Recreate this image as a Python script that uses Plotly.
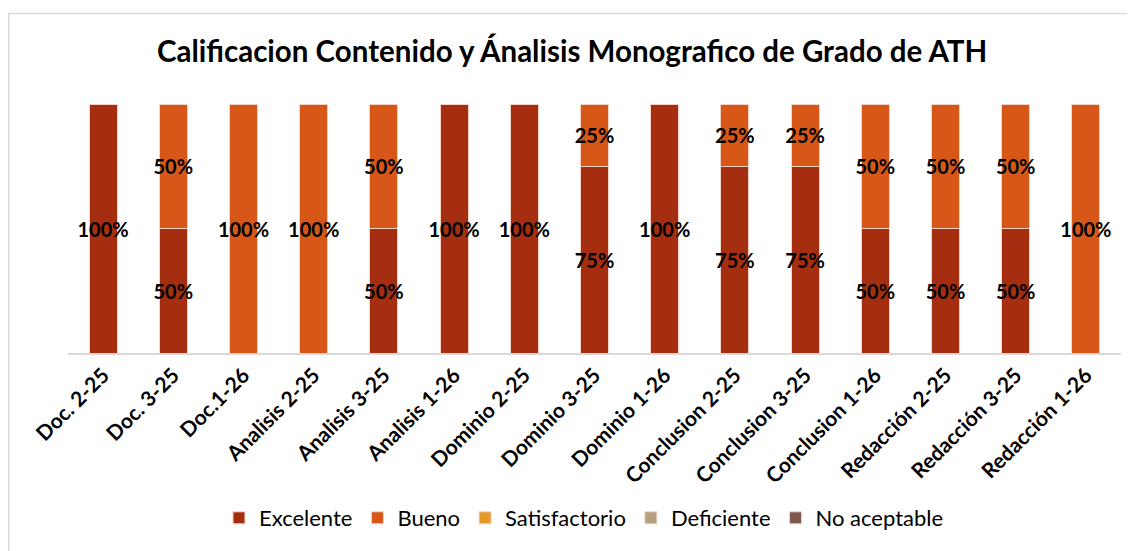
import plotly.graph_objects as go

categories = ["Doc. 2-25", "Doc. 3-25", "Doc.1-26", "Analisis 2-25", "Analisis 3-25",
              "Analisis 1-26", "Dominio 2-25", "Dominio 3-25", "Dominio 1-26",
              "Conclusion 2-25", "Conclusion 3-25", "Conclusion 1-26",
              "Redacción 2-25", "Redacción 3-25", "Redacción 1-26"]

excelente = [100, 50, 0, 0, 50, 100, 100, 75, 100, 75, 75, 50, 50, 50, 0]
bueno = [0, 50, 100, 100, 50, 0, 0, 25, 0, 25, 25, 50, 50, 50, 100]
satisfactorio = [0] * 15
deficiente = [0] * 15
no_aceptable = [0] * 15

series = [
    ("Excelente", excelente, "#A52E10"),
    ("Bueno", bueno, "#D65718"),
    ("Satisfactorio", satisfactorio, "#E39A28"),
    ("Deficiente", deficiente, "#B5A07F"),
    ("No aceptable", no_aceptable, "#7D5A4D"),
]

FONT = "Lato"

fig = go.Figure()
for name, vals, color in series:
    fig.add_trace(go.Bar(
        x=categories, y=vals, name=name,
        marker=dict(color=color, line=dict(color="#f3d3c5", width=1)),
        text=[f"{v}%" if v else "" for v in vals],
        textposition="inside", insidetextanchor="middle", constraintext="none",
        textangle=0,
        textfont=dict(family=FONT, size=20, color="black", weight="bold"),
    ))

# the page body adds an 8px offset, margins below are compensated for it
fig.update_layout(
    barmode="stack",
    bargap=0.6,
    width=1135, height=551,
    margin=dict(l=60, r=22, t=96, b=206, autoexpand=False),
    paper_bgcolor="white", plot_bgcolor="white",
    font=dict(family=FONT, color="black"),
    title=dict(text="<b>Calificacion Contenido y Ánalisis Monografico de Grado de ATH</b>",
               x=0.497, xanchor="center", y=1 - 44 / 551, yanchor="middle",
               font=dict(family=FONT, size=29.5, color="black")),
    legend=dict(orientation="h", x=0.49, xanchor="center",
                yref="container", y=1 - 510 / 551, yanchor="middle",
                font=dict(family=FONT, size=22), traceorder="normal",
                itemwidth=30),
    xaxis=dict(tickangle=-45, showline=True, linecolor="#d9d9d9", linewidth=1.5,
               tickfont=dict(family=FONT, size=21, weight="bold"), ticks="",
               automargin=False),
    yaxis=dict(range=[0, 100], visible=False, automargin=False),
    shapes=[dict(type="rect", xref="paper", yref="paper",
                 x0=-0.0563, x1=1.03, y0=-0.85, y1=1.3635,
                 line=dict(color="#d9d9d9", width=1.5), layer="below")],
)

fig.write_html("out.html")
